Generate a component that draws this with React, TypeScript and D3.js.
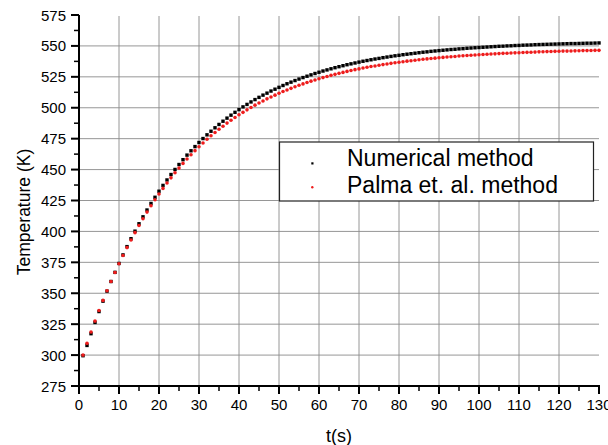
import React from "react";
import * as d3 from "d3";

// sample times, one point per second
const times = d3.range(1, 131);

const numerical = [
  299.5, 307.8, 317.3, 326.4, 335.2, 343.6, 351.7, 359.5, 366.9, 374.1,
  381.0, 387.7, 394.1, 400.2, 406.2, 411.8, 417.3, 422.6, 427.6, 432.5,
  437.2, 441.6, 446.0, 450.1, 454.1, 458.0, 461.7, 465.2, 468.6, 471.9,
  475.1, 478.1, 481.0, 483.8, 486.5, 489.1, 491.6, 494.0, 496.3, 498.5,
  500.7, 502.7, 504.7, 506.6, 508.4, 510.2, 511.8, 513.5, 515.0, 516.5,
  518.0, 519.4, 520.7, 522.0, 523.2, 524.4, 525.5, 526.6, 527.7, 528.7,
  529.7, 530.6, 531.5, 532.4, 533.2, 534.0, 534.8, 535.5, 536.2, 536.9,
  537.6, 538.2, 538.8, 539.4, 539.9, 540.5, 541.0, 541.5, 542.0, 542.4,
  542.9, 543.3, 543.7, 544.1, 544.5, 544.9, 545.2, 545.6, 545.9, 546.2,
  546.5, 546.8, 547.1, 547.3, 547.6, 547.8, 548.1, 548.3, 548.5, 548.7,
  548.9, 549.1, 549.3, 549.5, 549.7, 549.8, 550.0, 550.1, 550.3, 550.4,
  550.6, 550.7, 550.8, 551.0, 551.1, 551.2, 551.3, 551.4, 551.5, 551.6,
  551.7, 551.8, 551.9, 551.9, 552.0, 552.1, 552.2, 552.2, 552.3, 552.4,
];

const palma = [
  300.0, 309.5, 318.7, 327.5, 336.0, 344.2, 352.0, 359.5, 366.8, 373.8,
  380.5, 386.9, 393.1, 399.0, 404.8, 410.3, 415.6, 420.7, 425.6, 430.3,
  434.8, 439.2, 443.3, 447.4, 451.2, 455.0, 458.5, 462.0, 465.3, 468.5,
  471.5, 474.5, 477.3, 480.0, 482.6, 485.1, 487.6, 489.9, 492.1, 494.3,
  496.3, 498.3, 500.2, 502.1, 503.8, 505.5, 507.2, 508.7, 510.2, 511.7,
  513.1, 514.4, 515.7, 517.0, 518.2, 519.3, 520.4, 521.5, 522.5, 523.5,
  524.4, 525.3, 526.2, 527.0, 527.8, 528.6, 529.4, 530.1, 530.8, 531.4,
  532.1, 532.7, 533.3, 533.8, 534.4, 534.9, 535.4, 535.9, 536.4, 536.8,
  537.2, 537.7, 538.0, 538.4, 538.8, 539.2, 539.5, 539.8, 540.1, 540.4,
  540.7, 541.0, 541.3, 541.5, 541.8, 542.0, 542.3, 542.5, 542.7, 542.9,
  543.1, 543.3, 543.5, 543.6, 543.8, 544.0, 544.1, 544.3, 544.4, 544.5,
  544.7, 544.8, 544.9, 545.0, 545.2, 545.3, 545.4, 545.5, 545.6, 545.7,
  545.8, 545.8, 545.9, 546.0, 546.1, 546.2, 546.2, 546.3, 546.4, 546.4,
];

const xTicks = [0, 10, 20, 30, 40, 50, 60, 70, 80, 90, 100, 110, 120, 130];
const xMinor = [5, 15, 25, 35, 45, 55, 65, 75, 85, 95, 105, 115, 125];
const yTicks = [275, 300, 325, 350, 375, 400, 425, 450, 475, 500, 525, 550, 575];
const yMinor = [287.5, 312.5, 337.5, 362.5, 387.5, 412.5, 437.5, 462.5, 487.5, 512.5, 537.5, 562.5];

const legendLabels = ["Numerical method", "Palma et. al. method"];

const RED = "#ee1c1c";
const FONT = "'Liberation Sans', Arial, sans-serif";

const App = () => {
  const width = 608;
  const height = 445;
  const x = d3.scaleLinear().domain([0, 130]).range([79, 599]);
  const y = d3.scaleLinear().domain([275, 575]).range([386, 15]);
  const x0 = x(0);
  const y0 = y(275);

  return (
    <svg
      width={width}
      height={height}
      style={{ position: "absolute", left: 0, top: 0, background: "#fff" }}
      fontFamily={FONT}
    >
      {/* grid */}
      <g stroke="#8a8a8a" strokeWidth={0.9}>
        {xTicks.slice(1, -1).map(t => (
          <line key={"gx" + t} x1={x(t)} x2={x(t)} y1={y(575) + 1} y2={y0} />
        ))}
        {yTicks.slice(1, -1).map(t => (
          <line key={"gy" + t} x1={x0} x2={x(130)} y1={y(t)} y2={y(t)} />
        ))}
      </g>

      {/* data */}
      <g fill="#000">
        {times.map((t, i) => (
          <rect key={"n" + t} x={x(t) - 1.7} y={y(numerical[i]) - 1.7} width={3.4} height={3.4} />
        ))}
      </g>
      <g fill={RED}>
        {times.map((t, i) => (
          <circle key={"p" + t} cx={x(t)} cy={y(palma[i])} r={1.8} />
        ))}
      </g>

      {/* axes */}
      <g stroke="#000">
        <line x1={x0} x2={x0} y1={y(575)} y2={y0 + 1} strokeWidth={2} />
        <line x1={x0 - 1} x2={x(130) + 1} y1={y0} y2={y0} strokeWidth={2} />
        {yTicks.map(t => (
          <line key={"ty" + t} x1={x0 - 8} x2={x0} y1={y(t)} y2={y(t)} strokeWidth={2} />
        ))}
        {yMinor.map(t => (
          <line key={"my" + t} x1={x0 - 5} x2={x0} y1={y(t)} y2={y(t)} strokeWidth={1.5} />
        ))}
        {xTicks.map(t => (
          <line key={"tx" + t} x1={x(t)} x2={x(t)} y1={y0} y2={y0 + 8} strokeWidth={2} />
        ))}
        {xMinor.map(t => (
          <line key={"mx" + t} x1={x(t)} x2={x(t)} y1={y0} y2={y0 + 5} strokeWidth={1.5} />
        ))}
      </g>

      <g fontSize={15} fill="#000">
        {yTicks.map(t => (
          <text key={"ly" + t} x={66} y={y(t)} textAnchor="end" dominantBaseline="central">
            {t}
          </text>
        ))}
        {xTicks.map(t => (
          <text key={"lx" + t} x={x(t)} y={410} textAnchor="middle">
            {t}
          </text>
        ))}
      </g>

      <text x={339} y={442} textAnchor="middle" fontSize={18}>t(s)</text>
      <text
        transform="translate(24 212) rotate(-90)"
        textAnchor="middle"
        dominantBaseline="central"
        fontSize={17.5}
      >
        Temperature (K)
      </text>

      {/* legend */}
      <g>
        <rect x={279.5} y={142} width={314} height={59} fill="#fff" stroke="#222" strokeWidth={1.2} />
        <rect x={311.3} y={162.3} width={2.2} height={2.2} fill="#000" />
        <circle cx={312.3} cy={187.3} r={1.2} fill={RED} />
        <text x={347} y={166} fontSize={23}>{legendLabels[0]}</text>
        <text x={347} y={193} fontSize={23}>{legendLabels[1]}</text>
      </g>
    </svg>
  );
};

export default App;
